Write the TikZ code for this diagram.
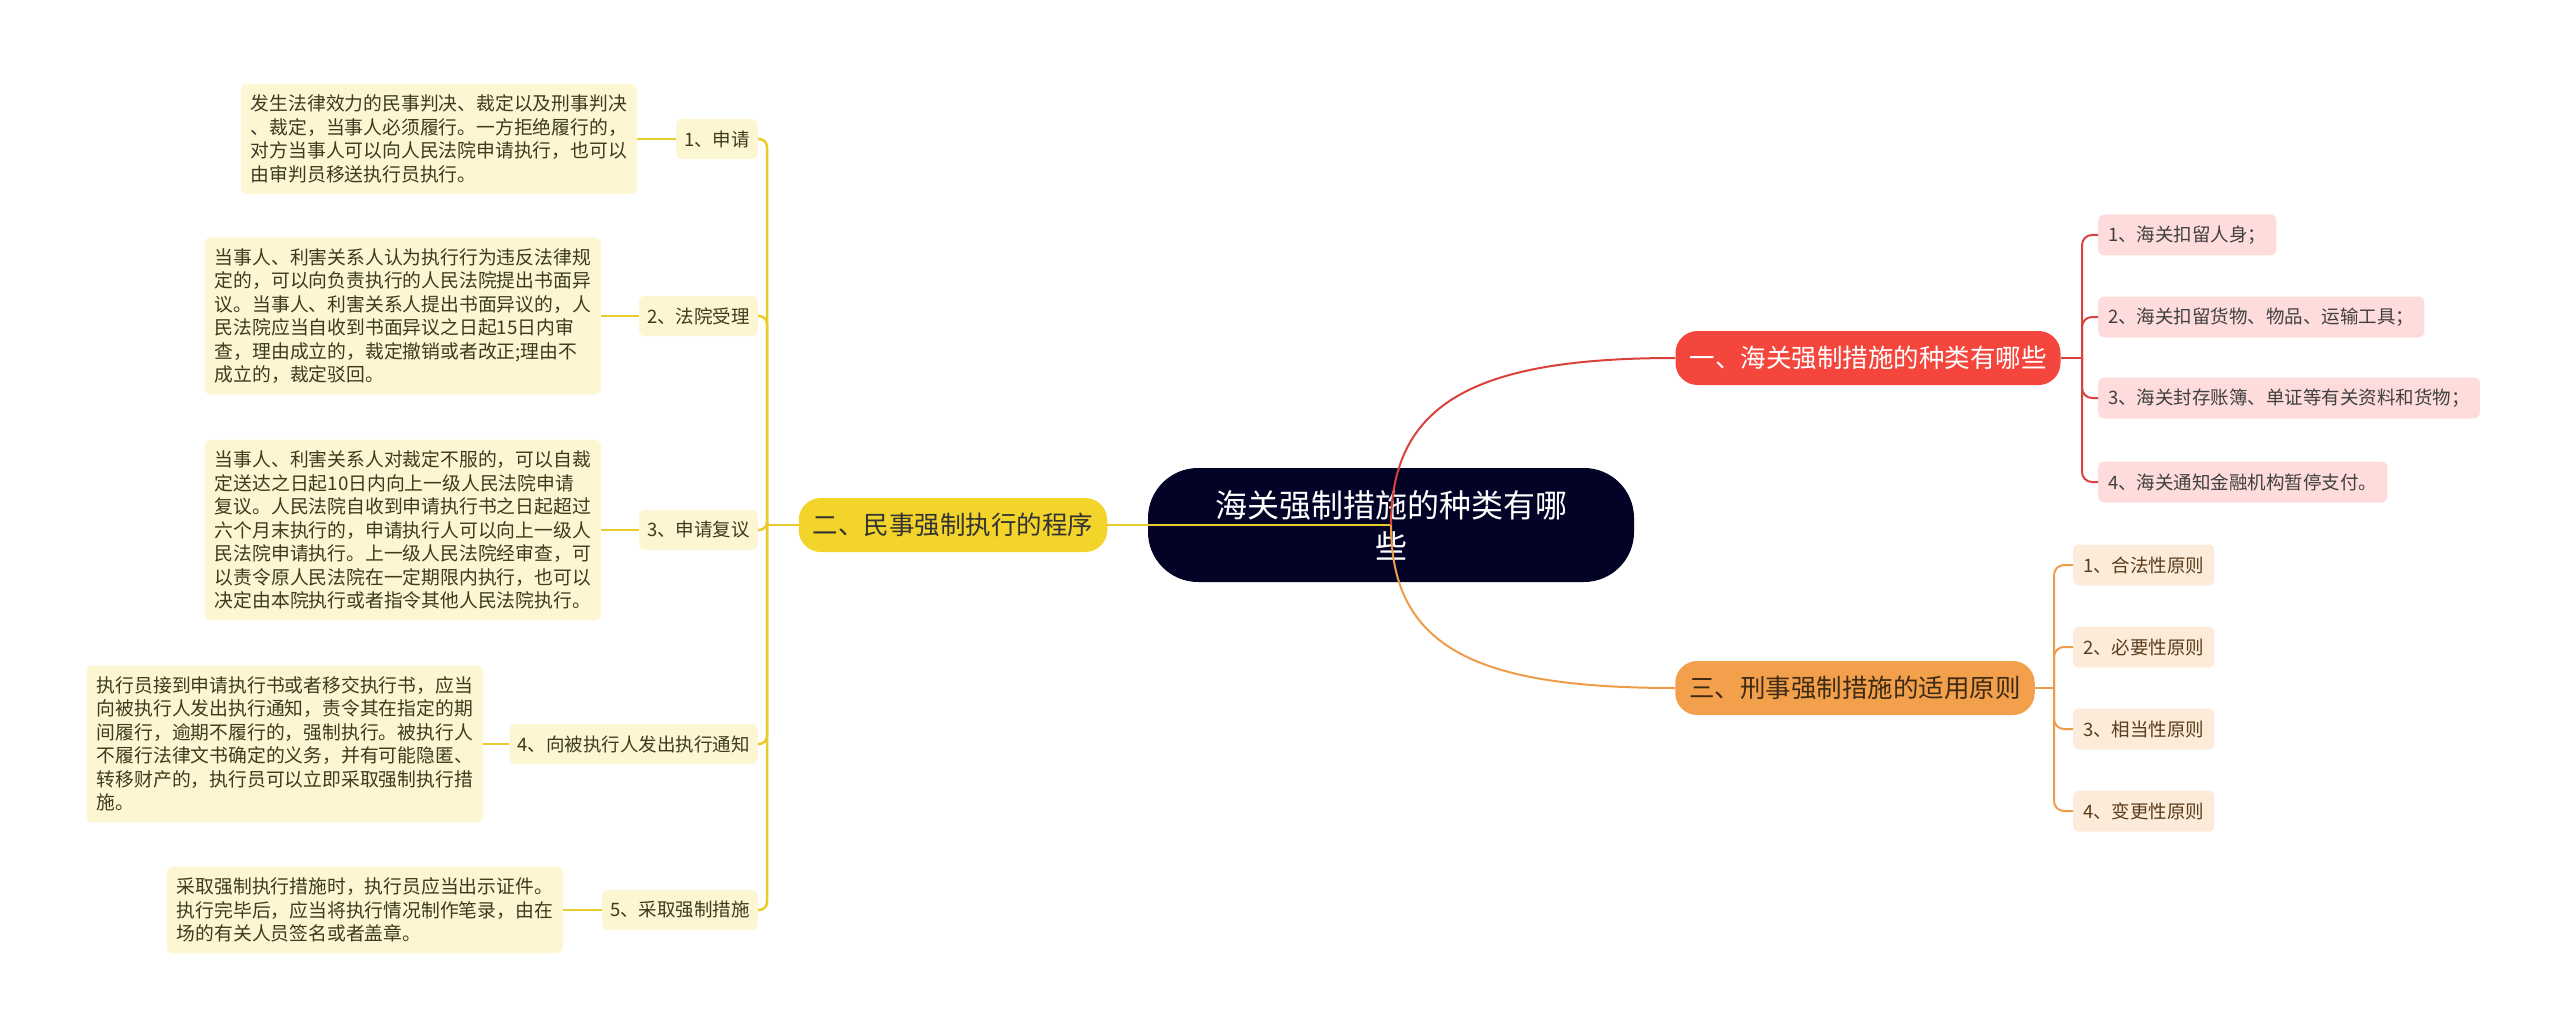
\documentclass[tikz,border=0pt]{standalone}
\usepackage{fontspec}
\setmainfont{Noto Sans CJK SC}
\usetikzlibrary{positioning}

\definecolor{rootfill}{HTML}{020327}
\definecolor{redfill}{HTML}{F4463D}
\definecolor{redleaf}{HTML}{FDDCDB}
\definecolor{redline}{HTML}{D9423A}
\definecolor{orangefill}{HTML}{F3A04D}
\definecolor{orangeleaf}{HTML}{FDEBDA}
\definecolor{orangeline}{HTML}{EE9C48}
\definecolor{yellowfill}{HTML}{F2D42A}
\definecolor{yellowbox}{HTML}{FDF6D3}
\definecolor{yellowline}{HTML}{EBCB2B}
\definecolor{bodytext}{HTML}{3E3A1E}
\definecolor{browntext}{HTML}{5A3D1C}

\begin{document}
\begin{tikzpicture}[x=1pt, y=-1pt,
	rootnode/.style={fill=rootfill, text=white, rounded corners=50pt, minimum width=486pt, minimum height=114pt, align=center, font=\fontsize{32}{41}\selectfont},
	branchnode/.style={rounded corners=22pt, minimum height=54pt, inner xsep=14pt, font=\fontsize{25.5}{28}\selectfont},
	leafnode/.style={rounded corners=6pt, minimum height=41pt, inner xsep=10pt, anchor=west, font=\fontsize{18.5}{20}\selectfont},
	midnode/.style={fill=yellowbox, text=bodytext, rounded corners=6pt, minimum height=40pt, inner xsep=8pt, anchor=east, font=\fontsize{18.5}{20}\selectfont},
	bodybox/.style={fill=yellowbox, text=bodytext, rounded corners=6pt, inner xsep=10pt, inner ysep=11pt, align=left, anchor=east, font=\fontsize{18.8}{23.5}\selectfont},
	redwire/.style={draw=redline, line width=2pt},
	orangewire/.style={draw=orangeline, line width=2pt},
	yellowwire/.style={draw=yellowline, line width=2.5pt}]
	\useasboundingbox (0,0) rectangle (2560,1035);

	% Root and the three branches
	\node[rootnode] (root) at (1391, 525) {海关强制措施的种类有哪\\些};
	\node[branchnode, fill=redfill, text=white] (b1) at (1868, 358) {一、海关强制措施的种类有哪些};
	\node[branchnode, fill=yellowfill, text=black!80] (b2) at (953, 525) {二、民事强制执行的程序};
	\node[branchnode, fill=orangefill, text=browntext!70!black] (b3) at (1855, 688) {三、刑事强制措施的适用原则};

	% Leaves of branch one
	\node[leafnode, fill=redleaf, text=black!75] (r1) at (2098, 235) {1、海关扣留人身；};
	\node[leafnode, fill=redleaf, text=black!75] (r2) at (2098, 317) {2、海关扣留货物、物品、运输工具；};
	\node[leafnode, fill=redleaf, text=black!75] (r3) at (2098, 398) {3、海关封存账簿、单证等有关资料和货物；};
	\node[leafnode, fill=redleaf, text=black!75] (r4) at (2098, 482) {4、海关通知金融机构暂停支付。};

	% Leaves of branch three
	\node[leafnode, fill=orangeleaf, text=browntext] (o1) at (2073, 565) {1、合法性原则};
	\node[leafnode, fill=orangeleaf, text=browntext] (o2) at (2073, 647) {2、必要性原则};
	\node[leafnode, fill=orangeleaf, text=browntext] (o3) at (2073, 729) {3、相当性原则};
	\node[leafnode, fill=orangeleaf, text=browntext] (o4) at (2073, 811) {4、变更性原则};

	% Steps of branch two
	\node[midnode] (m1) at (758, 139) {1、申请};
	\node[midnode] (m2) at (758, 316) {2、法院受理};
	\node[midnode] (m3) at (758, 530) {3、申请复议};
	\node[midnode] (m4) at (758, 744) {4、向被执行人发出执行通知};
	\node[midnode] (m5) at (758, 910) {5、采取强制措施};

	% Explanations of the steps
	\node[bodybox] (t1) at (637, 139) {发生法律效力的民事判决、裁定以及刑事判决\\、裁定，当事人必须履行。一方拒绝履行的，\\对方当事人可以向人民法院申请执行，也可以\\由审判员移送执行员执行。};
	\node[bodybox] (t2) at (601, 316) {当事人、利害关系人认为执行行为违反法律规\\定的，可以向负责执行的人民法院提出书面异\\议。当事人、利害关系人提出书面异议的，人\\民法院应当自收到书面异议之日起15日内审\\查，理由成立的，裁定撤销或者改正;理由不\\成立的，裁定驳回。};
	\node[bodybox] (t3) at (601, 530) {当事人、利害关系人对裁定不服的，可以自裁\\定送达之日起10日内向上一级人民法院申请\\复议。人民法院自收到申请执行书之日起超过\\六个月末执行的，申请执行人可以向上一级人\\民法院申请执行。上一级人民法院经审查，可\\以责令原人民法院在一定期限内执行，也可以\\决定由本院执行或者指令其他人民法院执行。};
	\node[bodybox] (t4) at (483, 744) {执行员接到申请执行书或者移交执行书，应当\\向被执行人发出执行通知，责令其在指定的期\\间履行，逾期不履行的，强制执行。被执行人\\不履行法律文书确定的义务，并有可能隐匿、\\转移财产的，执行员可以立即采取强制执行措\\施。};
	\node[bodybox] (t5) at (563, 910) {采取强制执行措施时，执行员应当出示证件。\\执行完毕后，应当将执行情况制作笔录，由在\\场的有关人员签名或者盖章。};

	% Junctions of the branch trunks
	\coordinate (rj) at (2082, 358);
	\coordinate (oj) at (2054, 688);
	\coordinate (yj) at (767, 525);

	% Connectors from the root
	\draw[yellowwire] (root.center) -- (b2.east);
	\draw[redwire] (root.center) .. controls (1391, 400) and (1480, 358) .. (b1.west);
	\draw[orangewire] (root.center) .. controls (1391, 650) and (1480, 688) .. (b3.west);

	% Connectors to the leaves
	\draw[redwire] (b1.east) -- (rj);
	\foreach \i in {1,...,4}
		\draw[redwire, rounded corners=10pt] (rj) |- (r\i.west);
	\draw[orangewire] (b3.east) -- (oj);
	\foreach \i in {1,...,4}
		\draw[orangewire, rounded corners=10pt] (oj) |- (o\i.west);
	\draw[yellowwire] (b2.west) -- (yj);
	\foreach \i in {1,...,5} {
		\draw[yellowwire, rounded corners=8pt] (yj) |- (m\i.east);
		\draw[yellowwire] (m\i.west) -- (t\i.east);
	}
\end{tikzpicture}
\end{document}
